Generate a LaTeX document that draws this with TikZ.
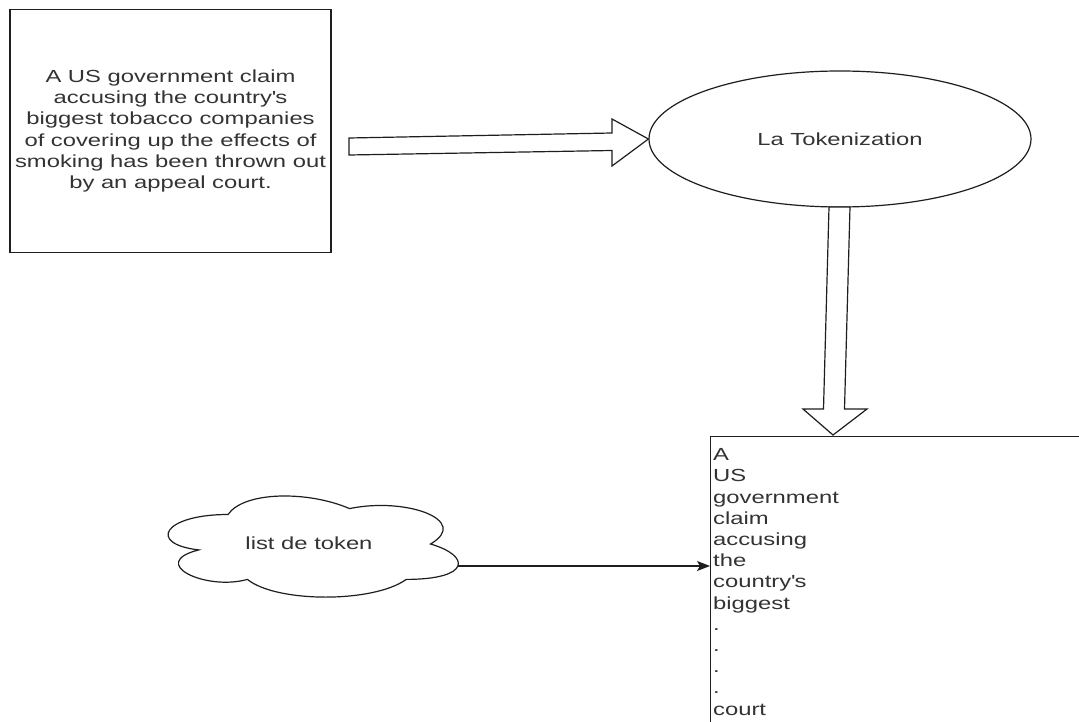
\documentclass[tikz,border=0pt]{standalone}
\usepackage{fontspec}
\setmainfont{Liberation Sans}[FakeStretch=1.36]
\usetikzlibrary{arrows.meta,shapes.geometric,calc}
\definecolor{linec}{HTML}{1E1E1E}
\definecolor{txtc}{HTML}{333333}
\begin{document}
\begin{tikzpicture}[x=1pt,y=-1pt,
  every node/.style={text=txtc,font=\fontsize{17.5}{21.2}\selectfont},
  box/.style={draw=linec,line width=1.2pt,rectangle,inner sep=0pt},
  ell/.style={draw=linec,line width=1.2pt,ellipse,inner sep=0pt},
  blockarrow/.style={draw=linec,line width=1.2pt,fill=white,line join=miter},
  conn/.style={draw=linec,line width=1.2pt,-{Stealth[length=13pt,width=10pt,inset=3pt]}},
  cloudline/.style={draw=linec,line width=1.2pt,fill=white}]
\useasboundingbox (0,0) rectangle (1079,722);
\clip (0,0) rectangle (1079,722);
\fill[white] (0,0) rectangle (1079,722);

% source text box
\node[box,minimum width=321pt,minimum height=242.5pt,align=center] (src) at (170.5,131)
  {A US government claim\\accusing the country\textquotesingle s\\biggest tobacco companies\\of covering up the effects of\\smoking has been thrown out\\by an appeal court.};

% tokenization ellipse
\node[ell,minimum width=382pt,minimum height=136pt] (tok) at (840,139) {La Tokenization};

% output box (runs past the picture's edges)
\node[box,anchor=north west,minimum width=400pt,minimum height=320pt] (out) at (710,436) {};
\node[anchor=north west,inner sep=0pt,align=left] (outtxt) at (713,448.5)
  {A\\US\\government\\claim\\accusing\\the\\country\textquotesingle s\\biggest\\.\\.\\.\\.\\court};

% block arrow: source -> tokenization
\draw[blockarrow] (349,138) -- (612,133) -- (612,119) -- (tok.west) -- (612,166) -- (612,150.5) -- (349,155) -- cycle;

% block arrow: tokenization -> output
\draw[blockarrow] (829,207) -- (850,207) -- (844.5,409) -- (867,409) -- (833,435) -- (803,409) -- (823.5,409) -- cycle;

% cloud
\draw[cloudline] (228,514.5)
  .. controls (163.2,514.5) and (147,544) .. (198.8,549.9)
  .. controls (147,562.9) and (205.3,591.2) .. (247.4,579.4)
  .. controls (276.6,603) and (373.8,603) .. (406.2,579.4)
  .. controls (471,579.4) and (471,555.8) .. (430.5,544)
  .. controls (471,520.4) and (406.2,496.8) .. (349.5,508.6)
  .. controls (309,490.9) and (244.2,490.9) .. (228,514.5) -- cycle;
\node[inner sep=0pt] (cloud) at (309,543) {list de token};
\coordinate (cloudR) at (458,566);

% connector: cloud -> output list
\draw[conn] (cloudR) -- (cloudR -| out.west);
\end{tikzpicture}
\end{document}
